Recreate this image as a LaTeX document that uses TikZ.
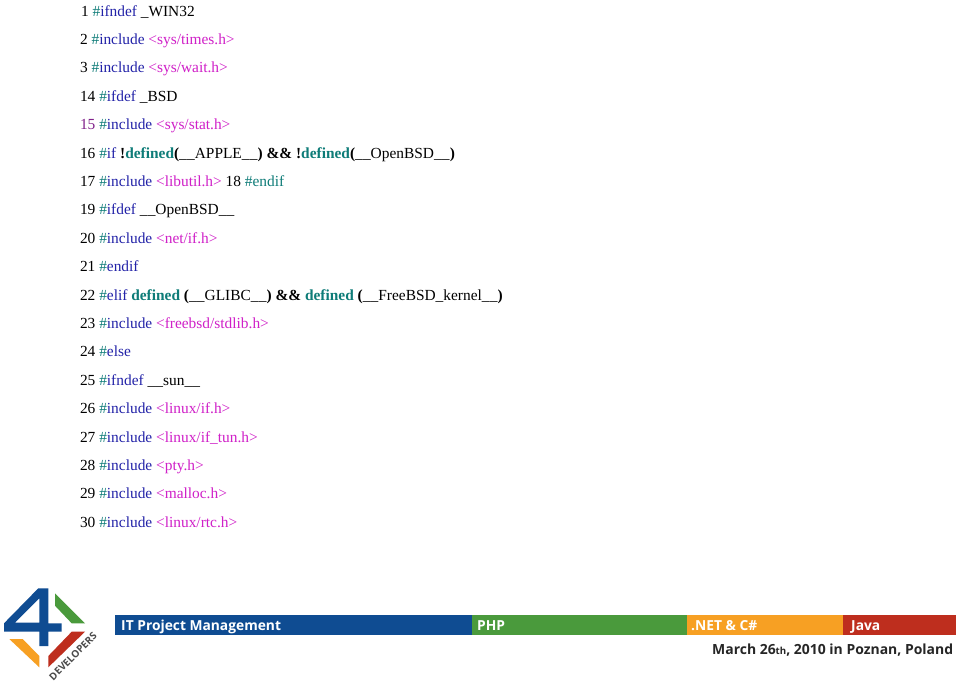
\documentclass[tikz,border=0pt]{standalone}
\usepackage{fontspec}
\setmainfont{Liberation Serif}
\newfontfamily\bannerfont{Open Sans}
\definecolor{kwteal}{HTML}{0E7C78}
\definecolor{kwblue}{HTML}{2222A8}
\definecolor{strmag}{HTML}{D020C8}
\definecolor{numpur}{HTML}{80208A}
\definecolor{barblue}{HTML}{0F4C92}
\definecolor{bargreen}{HTML}{4A9A3C}
\definecolor{barorange}{HTML}{F7A023}
\definecolor{barred}{HTML}{BE2E1E}
\newcommand{\hs}{\textcolor{kwteal}{\#}}
\newcommand{\kw}[1]{\hs\textcolor{kwblue}{#1}}
\newcommand{\str}[1]{\textcolor{strmag}{#1}}
\newcommand{\dfd}{\textcolor{kwteal}{\textbf{defined}}}
\newcommand{\us}{\_\kern0.2pt\_}
\begin{document}
\begin{tikzpicture}[x=1pt,y=-1pt,
  code/.style={anchor=base west,inner sep=0pt,outer sep=0pt,font=\fontsize{15.4}{18}\selectfont,text=black},
  bartext/.style={anchor=base west,inner sep=0pt,text=white,font=\bannerfont\bfseries\fontsize{13.8}{16}\selectfont}]
\useasboundingbox (0,0) rectangle (960,686);
\fill[white] (0,0) rectangle (960,686);
\node[code] (l1) at (81,16) {1 \kw{ifndef} \_WIN32};
\node[code] (l2) at (80,44.4) {2 \kw{include} \str{<sys/times.h>}};
\node[code] (l3) at (80,72.8) {3 \kw{include} \str{<sys/wait.h>}};
\node[code] (l14) at (80,101.2) {14 \kw{ifdef} \_BSD};
\node[code] (l15) at (80,129.6) {\textcolor{numpur}{15} \kw{include} \str{<sys/stat.h>}};
\node[code] (l16) at (80,158) {16 \kw{if} \textbf{!}\dfd\textbf{(}\us APPLE\us\textbf{) \&\& !}\dfd\textbf{(}\us OpenBSD\us\textbf{)}};
\node[code] (l17) at (80,186.4) {17 \kw{include} \str{<libutil.h>} 18 \hs\textcolor{kwteal}{endif}};
\node[code] (l19) at (80,214.8) {19 \kw{ifdef} \us OpenBSD\us};
\node[code] (l20) at (80,243.2) {20 \kw{include} \str{<net/if.h>}};
\node[code] (l21) at (80,271.6) {21 \kw{endif}};
\node[code] (l22) at (80,300) {22 \kw{elif} \dfd\ \textbf{(}\us GLIBC\us\textbf{) \&\&} \dfd\ \textbf{(}\us FreeBSD\_kernel\us\textbf{)}};
\node[code] (l23) at (80,328.4) {23 \kw{include} \str{<freebsd/stdlib.h>}};
\node[code] (l24) at (80,356.8) {24 \kw{else}};
\node[code] (l25) at (80,385.2) {25 \kw{ifndef} \us sun\us};
\node[code] (l26) at (80,413.6) {26 \kw{include} \str{<linux/if.h>}};
\node[code] (l27) at (80,442) {27 \kw{include} \str{<linux/if\_tun.h>}};
\node[code] (l28) at (80,470.4) {28 \kw{include} \str{<pty.h>}};
\node[code] (l29) at (80,498.8) {29 \kw{include} \str{<malloc.h>}};
\node[code] (l30) at (80,527.2) {30 \kw{include} \str{<linux/rtc.h>}};
% banner
\fill[barblue] (115,615) rectangle (472,635);
\fill[bargreen] (472,615) rectangle (687,635);
\fill[barorange] (687,615) rectangle (843,635);
\fill[barred] (843,615) rectangle (956,635);
\node[bartext] (b1) at (121,630.5) {IT Project Management};
\node[bartext] (b2) at (477,630.5) {PHP};
\node[bartext] (b3) at (691,630.5) {.NET \& C\#};
\node[bartext] (b4) at (851,630.5) {Java};
\node[anchor=base west,inner sep=0pt,text=black!85,font=\bannerfont\bfseries\fontsize{13.95}{16}\selectfont] (date) at (712,654.5) {March 26{\fontsize{9.7}{12}\selectfont th}, 2010 in Poznan, Poland};
% logo
\fill[barblue,even odd rule] (38.3,588.3) -- (48.3,588.3) -- (48.3,623.3) -- (61.7,623.3) -- (61.7,631.7) -- (48.3,631.7) -- (48.3,646) -- (39.3,646) -- (39.3,631.7) -- (4,631.7) -- (4,623.3) -- cycle
  (39.3,598.3) -- (39.3,622.7) -- (15,622.7) -- cycle;
\fill[bargreen] (55,593.3) -- (85,623.3) -- (71.7,623.3) -- (55,605.7) -- cycle;
\fill[barorange] (9.3,639) -- (22.7,639) -- (39.3,656) -- (39.3,667.3) -- cycle;
\fill[barred] (71.7,631.7) -- (85,631.7) -- (48.3,667.3) -- (48.3,656) -- cycle;
\node[rotate=45,inner sep=0pt,text=black!70,font=\bannerfont\bfseries\fontsize{10}{11}\selectfont] (dev) at (73,656.5) {DEVELOPERS};
\end{tikzpicture}
\end{document}
